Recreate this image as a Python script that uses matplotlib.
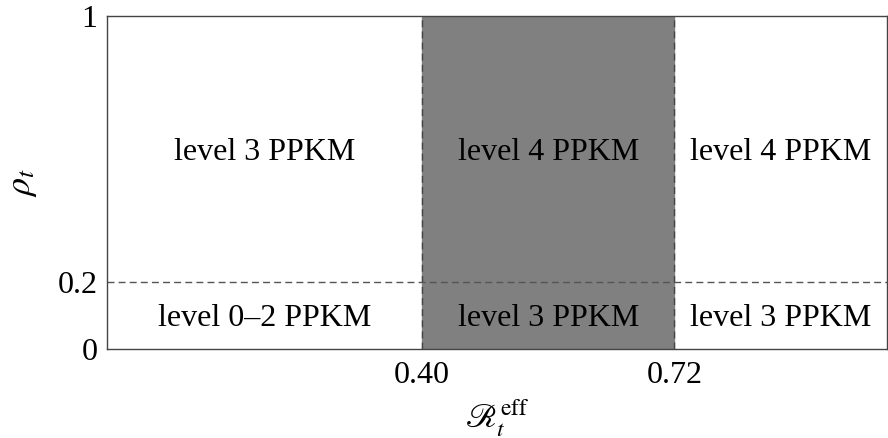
import matplotlib
matplotlib.use("Agg")
import matplotlib.pyplot as plt

plt.rcParams['font.family'] = ['Liberation Serif', 'DejaVu Serif']
plt.rcParams['mathtext.fontset'] = 'stix'

# thresholds of the effective reproduction number and of rho
r_low, r_high = 0.40, 0.72
rho_cut = 0.2
x_max = 0.99

x_ticks = [0.40, 0.72]
x_ticklabels = ['0.40', '0.72']
y_ticks = [0, 0.2, 1]
y_ticklabels = ['0', '0.2', '1']

# region labels: (x centre, y centre, text)
label_x = [0.20, 0.56, 0.855]
label_y = [0.59, 0.092]
labels_top = ['level 3 PPKM', 'level 4 PPKM', 'level 4 PPKM']
labels_bottom = ['level 0\u20132 PPKM', 'level 3 PPKM', 'level 3 PPKM']

fs = 23

fig = plt.figure(figsize=(8.88, 4.38), dpi=100)
ax = fig.add_axes([0.1205, 0.2032, 0.8785, 0.7603])

ax.axvspan(r_low, r_high, color='#808080', zorder=0)
ax.axvline(r_low, color='#444444', ls=(0, (5, 3)), lw=1)
ax.axvline(r_high, color='#444444', ls=(0, (5, 3)), lw=1)
ax.axhline(rho_cut, color='#555555', ls=(0, (5, 3)), lw=1)

for xc, t in zip(label_x, labels_top):
    ax.text(xc, label_y[0], t, ha='center', va='center', fontsize=fs)
for xc, t in zip(label_x, labels_bottom):
    ax.text(xc, label_y[1], t, ha='center', va='center', fontsize=fs)

ax.set_xlim(0, x_max)
ax.set_ylim(0, 1)
ax.set_xticks(x_ticks)
ax.set_xticklabels(x_ticklabels)
ax.set_yticks(y_ticks)
ax.set_yticklabels(y_ticklabels)
ax.tick_params(axis='x', length=0, labelsize=fs, pad=9)
ax.tick_params(axis='y', length=0, labelsize=fs, pad=7)

ax.set_xlabel(r'$\mathscr{R}_t^{\mathrm{eff}}$', fontsize=fs + 1, labelpad=5)
ax.set_ylabel(r'$\rho_t$', fontsize=fs + 3, labelpad=13)

for s in ax.spines.values():
    s.set_color('#444444')
    s.set_linewidth(1)

fig.savefig('out.png', dpi=100)
